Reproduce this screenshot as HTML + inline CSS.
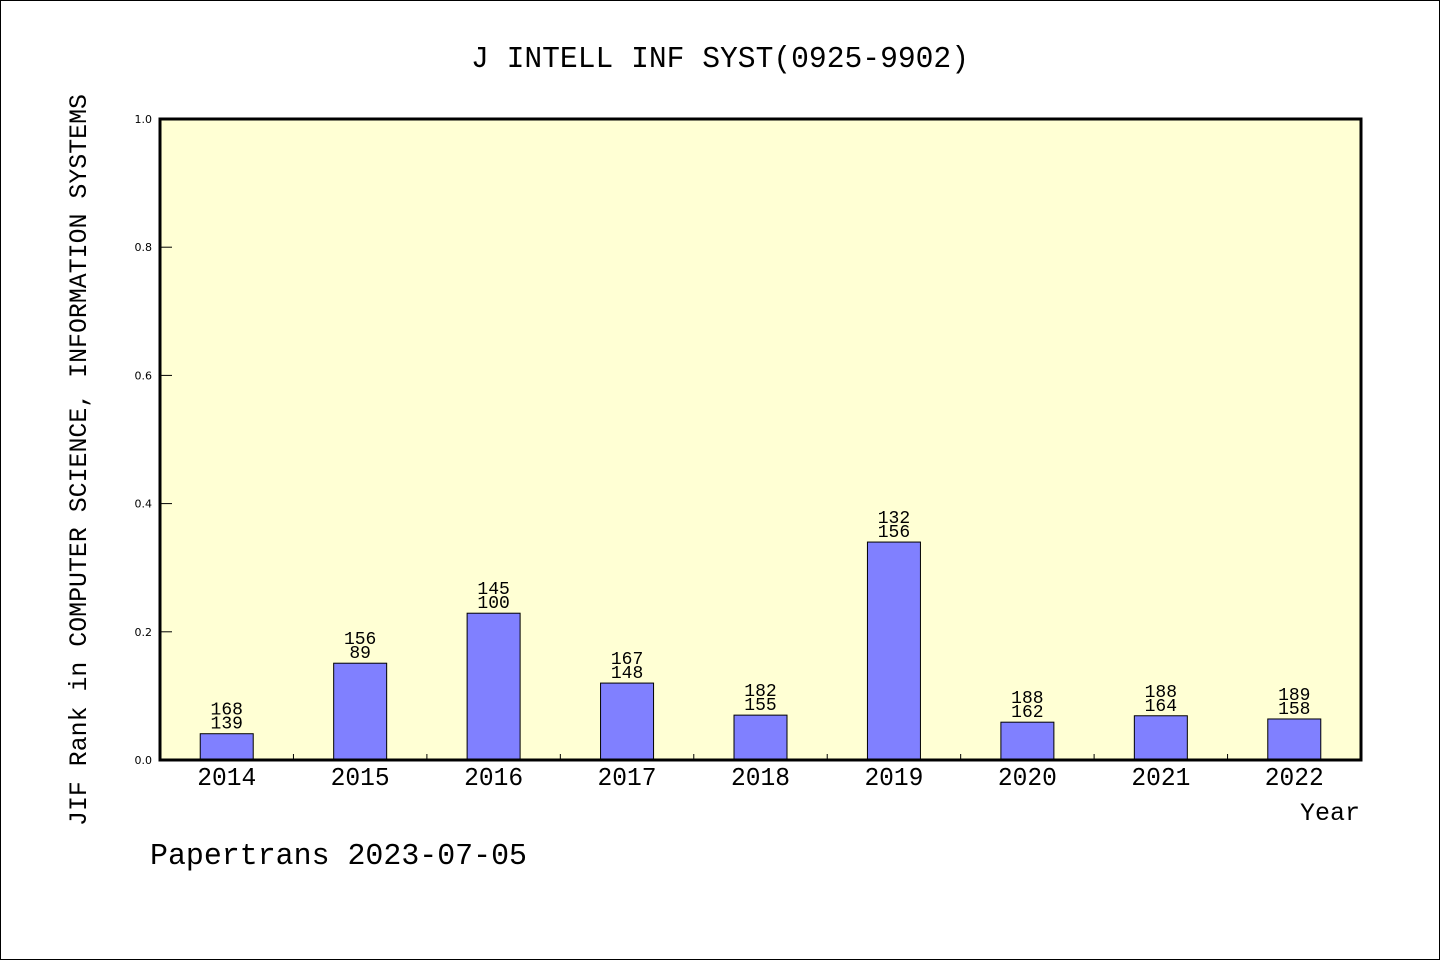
<!DOCTYPE html>
<html><head><meta charset="utf-8"><style>
html,body{margin:0;padding:0;background:#fff;}
svg{display:block;}
text{font-family:"WenQuanYi Zen Hei","Liberation Mono",monospace;fill:#000;}
</style></head><body>
<svg width="1440" height="960" viewBox="0 0 1440 960">
<rect x="0.5" y="0.5" width="1439" height="959" fill="#fff" stroke="#000" stroke-width="1"/>
<text x="720" y="67" text-anchor="middle" font-size="31" textLength="498" lengthAdjust="spacingAndGlyphs">J INTELL INF SYST(0925-9902)</text>
<rect x="160" y="119" width="1201" height="641" fill="#ffffd4"/>
<g id="yticks"></g>
<g id="bars"></g>
<rect x="160" y="119" width="1201" height="641" fill="none" stroke="#000" stroke-width="3"/>
<text transform="translate(86,460) rotate(-90)" text-anchor="middle" font-size="25" textLength="732" lengthAdjust="spacingAndGlyphs">JIF Rank in COMPUTER SCIENCE, INFORMATION SYSTEMS</text>
<text x="1360" y="820" text-anchor="end" font-size="25">Year</text>
<text x="150" y="864" font-size="31" textLength="377" lengthAdjust="spacingAndGlyphs">Papertrans 2023-07-05</text>
</svg>
<script>
const years=["2014","2015","2016","2017","2018","2019","2020","2021","2022"];
const values=[0.041,0.151,0.229,0.120,0.070,0.340,0.059,0.069,0.064];
const totals=["168","156","145","167","182","132","188","188","189"];
const ranks=["139","89","100","148","155","156","162","164","158"];
const yTicks=[0,0.2,0.4,0.6,0.8,1.0];
const yTickLabels=["0.0","0.2","0.4","0.6","0.8","1.0"];
const NS="http://www.w3.org/2000/svg";
const X0=160,W=1201,Y0=760,H=641;
const band=W/years.length;
function y(v){return Y0-v*H;}
function xc(i){return X0+band*(i+0.5);}
function mk(t,a,p){const e=document.createElementNS(NS,t);for(const k in a)e.setAttribute(k,a[k]);p.appendChild(e);return e;}
const yt=document.getElementById('yticks');
yTicks.forEach((v,i)=>{
 const l=mk('line',{x1:X0,x2:X0+12,y1:y(v),y2:y(v),stroke:'#000','stroke-width':1},yt);
 
 
 const t=mk('text',{x:152,y:y(v)+4,'text-anchor':'end','font-size':11,style:'font-family:"DejaVu Sans",sans-serif'},yt);
 t.textContent=yTickLabels[i];
 
 
});
const bg=document.getElementById('bars');
years.forEach((yr,i)=>{
 if(i>0){
  const tk=mk('line',{x1:X0+band*i,x2:X0+band*i,y1:Y0,y2:Y0-6,stroke:'#000','stroke-width':1},bg);
  
  
 }
 const bw=53;
 const r=mk('rect',{x:xc(i)-bw/2,y:y(values[i]),width:bw,height:Y0-y(values[i]),fill:'#8080ff',stroke:'#000','stroke-width':1},bg);
 
 
 const t1=mk('text',{x:xc(i),y:y(values[i])-19,'text-anchor':'middle','font-size':18},bg);
 t1.textContent=totals[i];
 
 
 const t2=mk('text',{x:xc(i),y:y(values[i])-5,'text-anchor':'middle','font-size':18},bg);
 t2.textContent=ranks[i];
 
 
 const xl=mk('text',{x:xc(i),y:785,'text-anchor':'middle','font-size':26,textLength:59,lengthAdjust:'spacingAndGlyphs'},bg);
 xl.textContent=yr;
 
 
});
</script>
</body></html>
